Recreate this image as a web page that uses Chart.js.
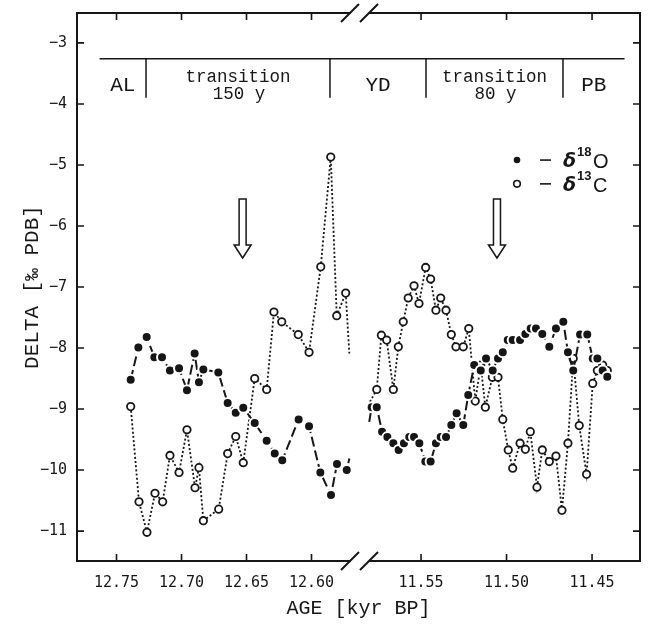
<!DOCTYPE html>
<html><head><meta charset="utf-8">
<script src="https://cdn.jsdelivr.net/npm/chart.js@4.4.1/dist/chart.umd.min.js"></script>
<style>html,body{margin:0;padding:0;background:#fff;overflow:hidden}canvas{display:block}</style>
</head><body><canvas id="c" width="648" height="626" style="width:648px;height:626px"></canvas>
<script>
// ---------- data (ages in kyr BP, values in per mil PDB) ----------
const ageOLeft = [12.7391,12.7332,12.7268,12.7209,12.7150,12.7089,12.7019,12.6958,12.6899,12.6866,12.6832,12.6717,12.6645,12.6583,12.6525,12.6437,12.6345,12.6283,12.6225,12.6099,12.6019,12.5932,12.5850,12.5804,12.5729,12.5709];
const d18OLeft = [-8.52,-7.99,-7.82,-8.15,-8.15,-8.37,-8.33,-8.69,-8.09,-8.56,-8.35,-8.40,-8.90,-9.06,-8.98,-9.23,-9.52,-9.73,-9.84,-9.17,-9.28,-10.04,-10.41,-9.90,-10.00,-9.81];
const ageCLeft = [12.7391,12.7327,12.7266,12.7204,12.7145,12.7089,12.7019,12.6958,12.6896,12.6866,12.6832,12.6714,12.6645,12.6583,12.6525,12.6437,12.6345,12.6289,12.6229,12.6102,12.6019,12.5929,12.5852,12.5806,12.5737,12.5709];
const d13CLeft = [-8.96,-10.52,-11.02,-10.38,-10.52,-9.76,-10.04,-9.34,-10.29,-9.96,-10.83,-10.64,-9.73,-9.45,-9.88,-8.50,-8.68,-7.41,-7.57,-7.78,-8.07,-6.67,-4.87,-7.47,-7.10,-8.09];
const ageORight = [11.5803,11.5789,11.5759,11.5728,11.5697,11.5662,11.5631,11.5600,11.5569,11.5541,11.5510,11.5475,11.5444,11.5413,11.5385,11.5354,11.5323,11.5292,11.5253,11.5224,11.5189,11.5151,11.5120,11.5081,11.5050,11.5022,11.4993,11.4964,11.4921,11.4890,11.4859,11.4828,11.4791,11.4750,11.4711,11.4668,11.4641,11.4610,11.4570,11.4528,11.4496,11.4469,11.4438,11.4411];
const d18ORight = [-9.21,-8.97,-8.97,-9.37,-9.46,-9.56,-9.67,-9.56,-9.46,-9.46,-9.56,-9.86,-9.86,-9.56,-9.46,-9.46,-9.26,-9.07,-9.26,-8.77,-8.28,-8.37,-8.17,-8.37,-8.17,-8.07,-7.87,-7.87,-7.87,-7.77,-7.68,-7.68,-7.77,-7.98,-7.68,-7.57,-8.07,-8.37,-7.78,-7.78,-8.17,-8.17,-8.37,-8.47];
const ageCRight = [11.5799,11.5759,11.5732,11.5701,11.5662,11.5633,11.5604,11.5575,11.5541,11.5512,11.5473,11.5444,11.5413,11.5385,11.5354,11.5323,11.5296,11.5253,11.5221,11.5183,11.5151,11.5124,11.5083,11.5050,11.5022,11.4990,11.4964,11.4921,11.4890,11.4861,11.4822,11.4791,11.4750,11.4711,11.4676,11.4641,11.4610,11.4575,11.4532,11.4496,11.4469,11.4438,11.4411];
const d13CRight = [-8.88,-8.68,-7.79,-7.87,-8.68,-7.98,-7.57,-7.18,-6.98,-7.27,-6.68,-6.87,-7.38,-7.18,-7.38,-7.78,-7.98,-7.98,-7.68,-8.87,-8.28,-8.97,-8.48,-8.48,-9.17,-9.67,-9.97,-9.56,-9.66,-9.37,-10.28,-9.67,-9.86,-9.77,-10.66,-9.56,-8.17,-9.27,-10.07,-8.58,-8.37,-8.28,-8.37];

const xTicksLeft = [12.75, 12.70, 12.65, 12.60];
const xTicksRight = [11.55, 11.50, 11.45];
const yTicks = [-11, -10, -9, -8, -7, -6, -5, -4, -3];

const zoneLabels = [['AL'], ['transition', '150 y'], ['YD'], ['transition', '80 y'], ['PB']];
const zoneBounds = [12.763, 12.7273, 12.5858, 11.5471, 11.4670, 11.4310];
const arrowAges = [12.653, 11.5056];

const legendItems = [{iso: '18', el: 'O', filled: true}, {iso: '13', el: 'C', filled: false}];

// ---------- chart ----------
const INK = '#161616';
const tickFont = {family: '"DejaVu Sans Mono", monospace', size: 15};
const pairs = (xs, ys) => xs.map((x, i) => ({x, y: ys[i]}));
const noPad = s => { s.paddingLeft = 0; s.paddingRight = 0; s.paddingTop = 0; s.paddingBottom = 0; };

function series(xs, ys, axis, filled, hidden) {
  const r = filled ? 5 : 3.7;
  return {
    data: pairs(xs, ys), xAxisID: axis, yAxisID: 'y', showLine: true,
    borderColor: INK, borderWidth: filled ? 2 : 1.8,
    borderDash: filled ? [10, 4] : [2, 2.2],
    pointRadius: c => c.dataIndex === hidden(c) ? 0 : r,
    pointBackgroundColor: filled ? INK : '#fff',
    pointBorderColor: filled ? '#fff' : INK,
    pointBorderWidth: filled ? 2 : 1.8,
    order: filled ? 0 : 1
  };
}
const lastIdx = c => c.dataset.data.length - 1;
const firstIdx = () => 0;

function xAxis(pos, stack, weight, min, max, ticks, h, showLabels) {
  return {
    type: 'linear', position: pos, stack: stack, stackWeight: weight, reverse: true,
    min: min, max: max,
    afterBuildTicks: s => { s.ticks = ticks.map(v => ({value: v})); },
    afterFit: s => { s.height = h; noPad(s); },
    ticks: {display: showLabels, callback: v => Number(v).toFixed(2), font: tickFont, color: INK, padding: 13, autoSkip: false, maxRotation: 0},
    grid: {display: false, drawTicks: false},
    border: {display: true, color: INK, width: 2}
  };
}

const yMin = -11.49, yMax = -2.51;

const decor = {
  id: 'decor',
  afterDraw(chart) {
    const {ctx, chartArea: ca, scales: s} = chart;
    const px = a => a > 12 ? s.xL.getPixelForValue(a) : s.xR.getPixelForValue(a);
    const py = v => s.y.getPixelForValue(v);
    ctx.save();
    ctx.strokeStyle = INK; ctx.fillStyle = INK; ctx.lineWidth = 1.6;
    // inward ticks
    const TL = 7;
    ctx.beginPath();
    for (const id of ['xL', 'xR']) for (const t of s[id].ticks) {
      const x = s[id].getPixelForValue(t.value);
      ctx.moveTo(x, ca.bottom); ctx.lineTo(x, ca.bottom - TL);
      ctx.moveTo(x, ca.top); ctx.lineTo(x, ca.top + TL);
    }
    for (const t of s.y.ticks) {
      const y = s.y.getPixelForValue(t.value);
      ctx.moveTo(ca.left, y); ctx.lineTo(ca.left + TL, y);
      ctx.moveTo(ca.right, y); ctx.lineTo(ca.right - TL, y);
    }
    ctx.stroke();
    // axis breaks
    const cx = s.xL.right;
    for (const ay of [ca.top, ca.bottom]) {
      ctx.fillStyle = '#fff';
      ctx.fillRect(cx - 9, ay - 3, 18, 6);
      ctx.beginPath(); ctx.lineWidth = 2;
      for (const off of [-10, 9]) { ctx.moveTo(cx + off - 9, ay + 9); ctx.lineTo(cx + off + 9, ay - 9); }
      ctx.stroke();
    }
    ctx.fillStyle = INK;
    // header zones
    const yLine = py(-3.26), yDivEnd = py(-3.90);
    ctx.lineWidth = 1.5;
    ctx.beginPath();
    ctx.moveTo(px(zoneBounds[0]), yLine); ctx.lineTo(px(zoneBounds[zoneBounds.length - 1]), yLine);
    for (let i = 1; i < zoneBounds.length - 1; i++) { const x = px(zoneBounds[i]); ctx.moveTo(x, yLine); ctx.lineTo(x, yDivEnd); }
    ctx.stroke();
    ctx.textAlign = 'center'; ctx.textBaseline = 'middle';
    zoneLabels.forEach((lab, i) => {
      const x = (px(zoneBounds[i]) + px(zoneBounds[i + 1])) / 2;
      if (lab.length === 1) {
        ctx.font = '21px "Liberation Mono", monospace';
        ctx.fillText(lab[0], x, py(-3.70));
      } else {
        ctx.font = '17.5px "Liberation Mono", monospace';
        ctx.fillText(lab[0], x, py(-3.56));
        ctx.fillText(lab[1], x + 1, py(-3.85));
      }
    });
    // arrows
    ctx.lineWidth = 1.5; ctx.fillStyle = '#fff';
    for (const a of arrowAges) {
      const x = px(a), yT = py(-5.56), yN = py(-6.31), yP = py(-6.525);
      ctx.beginPath();
      ctx.moveTo(x - 3.5, yT); ctx.lineTo(x + 3.5, yT); ctx.lineTo(x + 3.5, yN); ctx.lineTo(x + 8.5, yN);
      ctx.lineTo(x, yP); ctx.lineTo(x - 8.5, yN); ctx.lineTo(x - 3.5, yN); ctx.closePath();
      ctx.fill(); ctx.stroke();
    }
    // legend
    ctx.fillStyle = INK;
    legendItems.forEach((it, i) => {
      const y = py(-4.92 - i * 0.39);
      ctx.beginPath(); ctx.lineWidth = 1.6;
      ctx.arc(517, y, 3.3, 0, Math.PI * 2);
      if (it.filled) ctx.fill(); else { ctx.fillStyle = '#fff'; ctx.fill(); ctx.fillStyle = INK; ctx.stroke(); }
      ctx.beginPath(); ctx.lineWidth = 1.6; ctx.moveTo(540, y); ctx.lineTo(551, y); ctx.stroke();
      ctx.textAlign = 'left'; ctx.textBaseline = 'alphabetic';
      ctx.font = 'italic bold 19px "DejaVu Sans", sans-serif';
      ctx.fillText('δ', 563, y + 7);
      ctx.font = 'bold 13px "Liberation Sans", sans-serif';
      ctx.fillText(it.iso, 577, y - 4);
      ctx.font = '20px "Liberation Sans", sans-serif';
      ctx.fillText(it.el, 593, y + 8);
    });
    // x title
    ctx.textAlign = 'center'; ctx.textBaseline = 'middle';
    ctx.font = '20px "Liberation Mono", monospace';
    ctx.fillText('AGE [kyr BP]', (ca.left + ca.right) / 2, 609);
    ctx.restore();
  }
};

new Chart(document.getElementById('c'), {
  type: 'scatter',
  data: {datasets: [
    series(ageOLeft, d18OLeft, 'xL', true, lastIdx),
    series(ageORight, d18ORight, 'xR', true, firstIdx),
    series(ageCLeft, d13CLeft, 'xL', false, lastIdx),
    series(ageCRight, d13CRight, 'xR', false, firstIdx)
  ]},
  options: {
    responsive: false, maintainAspectRatio: false, animation: false, events: [], devicePixelRatio: 1,
    layout: {padding: 0},
    plugins: {legend: {display: false}, tooltip: {enabled: false}},
    scales: {
      xL: xAxis('bottom', 'bot', 283, 12.5627, 12.7804, xTicksLeft, 65, true),
      xR: xAxis('bottom', 'bot', 280, 11.42196, 11.5857, xTicksRight, 65, true),
      xLt: xAxis('top', 'top', 283, 12.5627, 12.7804, xTicksLeft, 13, false),
      xRt: xAxis('top', 'top', 280, 11.42196, 11.5857, xTicksRight, 13, false),
      y: {
        type: 'linear', position: 'left', min: yMin, max: yMax,
        afterBuildTicks: s => { s.ticks = yTicks.map(v => ({value: v})); },
        afterFit: s => { s.width = 77; noPad(s); },
        ticks: {callback: v => String(v).replace('-', '\u2212'), font: tickFont, color: INK, padding: 10},
        grid: {display: false, drawTicks: false},
        border: {display: true, color: INK, width: 2},
        title: {display: true, text: 'DELTA [\u2030 PDB]', color: INK, font: {family: '"Liberation Mono", monospace', size: 21}, padding: {top: 20, bottom: 0}}
      },
      yR: {
        type: 'linear', position: 'right', min: yMin, max: yMax,
        afterFit: s => { s.width = 8; noPad(s); },
        ticks: {display: false},
        grid: {display: false, drawTicks: false},
        border: {display: true, color: INK, width: 2}
      }
    }
  },
  plugins: [decor]
});
</script>
</body></html>
